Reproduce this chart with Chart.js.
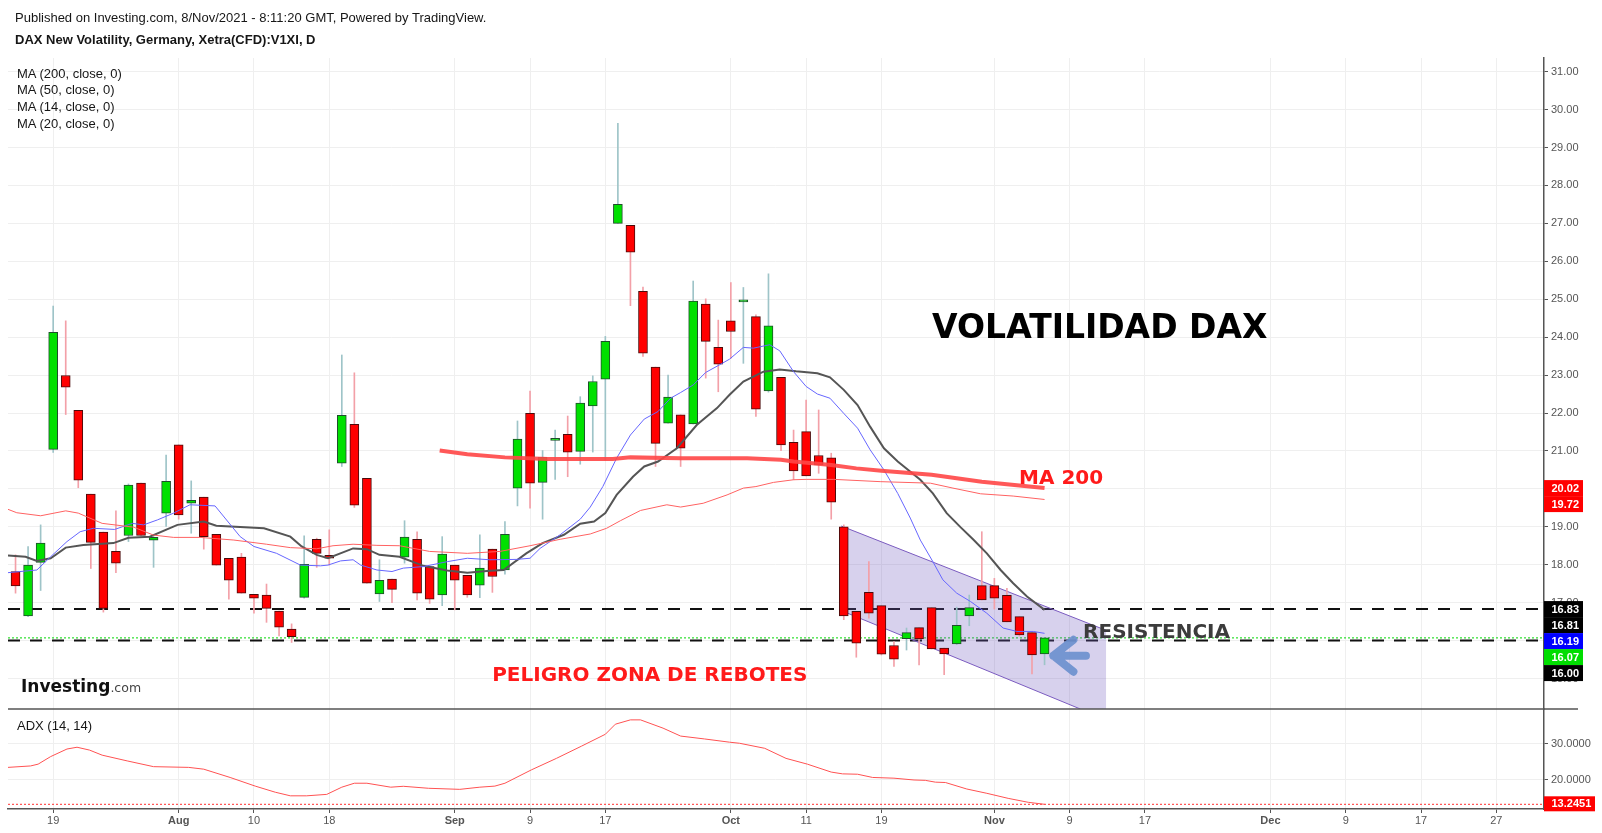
<!DOCTYPE html>
<html>
<head>
<meta charset="utf-8">
<title>DAX New Volatility</title>
<script src="https://cdn.jsdelivr.net/npm/chart.js@4.4.0/dist/chart.umd.min.js"></script>
<style>
body { margin: 0; background: #fff; }
#wrap { position: relative; width: 1602px; height: 833px; font-family: "Liberation Sans", Arial, sans-serif; color: #161616; }
#chart { position: absolute; left: 0; top: 0; }
.txt { position: absolute; font-size: 13px; line-height: 15px; white-space: nowrap; }
#logo { font-family: "DejaVu Sans", Verdana, sans-serif; }
#logo b { font-size: 17px; color: #111; }
#logo span { font-size: 12.5px; color: #444; }
</style>
</head>
<body>
<div id="wrap">
<canvas id="chart" width="1602" height="833"></canvas>
<div class="txt" style="left:15px;top:10px">Published on Investing.com, 8/Nov/2021 - 8:11:20 GMT, Powered by TradingView.</div>
<div class="txt" style="left:15px;top:32px;font-weight:bold">DAX New Volatility, Germany, Xetra(CFD):V1XI, D</div>
<div class="txt" style="left:17px;top:66px">MA (200, close, 0)</div>
<div class="txt" style="left:17px;top:82px">MA (50, close, 0)</div>
<div class="txt" style="left:17px;top:99px">MA (14, close, 0)</div>
<div class="txt" style="left:17px;top:116px">MA (20, close, 0)</div>
<div class="txt" id="logo" style="left:21px;top:676px;line-height:20px"><b>Investing</b><span>.com</span></div>
<div class="txt" style="left:17px;top:718px">ADX (14, 14)</div>
</div>
<script>
// daily bars, x = trading day counted from 19 Jul 2021 (first bar is 14 Jul = -3)
const firstDay = -3;

const open = [
	17.82, 16.65, 18.06, 21.04, 22.99, 22.07, 19.86, 18.86, 18.35, 18.77,
	20.15, 18.65, 19.36, 21.16, 19.62, 19.78, 18.80, 18.17, 18.20, 17.22,
	17.20, 16.78, 16.30, 17.14, 18.67, 18.25, 20.68, 21.70, 20.28, 17.23,
	17.62, 18.20, 18.67, 17.95, 17.20, 17.99, 17.72, 17.46, 18.41, 17.86,
	20.02, 21.99, 20.17, 21.28, 21.44, 20.99, 22.19, 22.89, 27.00, 26.95,
	25.21, 23.21, 21.73, 21.95, 21.71, 24.87, 23.73, 24.43, 24.93, 24.54,
	22.58, 22.94, 21.23, 21.51, 20.88, 20.82, 19.00, 16.77, 17.27, 16.92,
	15.87, 16.05, 16.34, 16.87, 15.80, 15.91, 16.65, 17.45, 17.45, 17.19,
	16.63, 16.21, 15.65
];
const high = [
	18.26, 18.48, 19.05, 24.82, 24.43, 22.07, 19.86, 18.86, 19.42, 20.13,
	20.15, 18.74, 20.89, 21.16, 20.21, 19.78, 18.80, 18.17, 18.30, 17.22,
	17.49, 16.78, 16.44, 18.76, 18.70, 18.92, 23.53, 23.06, 20.28, 18.13,
	17.62, 19.16, 18.87, 17.95, 18.74, 17.99, 17.72, 18.79, 18.41, 19.14,
	21.79, 22.58, 21.01, 21.55, 21.92, 22.43, 22.98, 24.02, 29.64, 26.95,
	25.32, 23.21, 23.00, 21.95, 25.48, 25.01, 24.45, 25.44, 25.31, 24.59,
	25.67, 22.94, 21.55, 22.34, 22.08, 20.94, 19.05, 16.77, 18.08, 16.92,
	15.97, 16.33, 16.34, 16.87, 15.80, 16.88, 17.20, 18.87, 17.64, 17.38,
	16.63, 16.21, 16.07
];
const low = [
	17.25, 16.63, 17.32, 20.96, 21.96, 20.03, 17.90, 16.75, 17.79, 18.61,
	18.77, 17.93, 19.01, 19.20, 18.83, 18.41, 17.99, 17.09, 17.25, 16.72,
	16.48, 16.12, 15.95, 17.12, 17.93, 17.99, 20.59, 19.51, 17.51, 17.03,
	17.00, 18.04, 17.07, 16.98, 16.92, 16.81, 17.14, 17.13, 17.27, 17.75,
	19.55, 19.49, 19.20, 20.25, 20.32, 20.65, 20.97, 20.76, 27.00, 24.83,
	23.49, 20.59, 21.73, 20.59, 21.71, 22.92, 22.56, 23.44, 23.31, 21.91,
	22.55, 21.01, 20.24, 20.34, 20.41, 19.20, 16.55, 15.56, 16.59, 15.62,
	15.32, 15.75, 15.36, 15.78, 15.10, 15.89, 16.39, 17.07, 16.83, 16.49,
	16.12, 15.12, 15.36
];
const close = [
	17.44, 17.99, 18.57, 24.13, 22.68, 20.23, 18.59, 16.85, 18.04, 20.10,
	18.77, 18.72, 20.20, 19.31, 19.70, 18.74, 17.99, 17.59, 17.25, 17.12,
	16.85, 16.35, 16.10, 18.01, 18.30, 18.17, 21.94, 19.57, 17.51, 17.59,
	17.35, 18.73, 17.25, 17.09, 18.28, 17.59, 17.20, 17.91, 17.69, 18.80,
	21.31, 20.15, 20.83, 21.30, 20.97, 22.26, 22.83, 23.89, 27.50, 26.24,
	23.58, 21.20, 22.42, 21.07, 24.95, 23.89, 23.29, 24.15, 24.97, 22.10,
	24.30, 21.16, 20.47, 20.34, 20.63, 19.65, 16.65, 15.93, 16.72, 15.64,
	15.51, 16.21, 16.04, 15.78, 15.65, 16.40, 16.87, 17.07, 17.12, 16.49,
	16.15, 15.62, 16.07
];

// moving averages: [day, value]
const ma200 = [[30.8,21.01],[33,20.91],[36,20.83],[39.4,20.79],[44.6,20.79],[46,20.83],[50,20.81],[55.3,20.81],
	[58,20.77],[59,20.72],[62,20.63],[64,20.54],[66,20.48],[70,20.37],[74,20.19],[79,20.02]];
const ma50 = [[-3.6,19.46],[-2.9,19.37],[-1,19.29],[1,19.42],[2,19.36],[3.9,19.09],[6.4,18.99],[8,18.78],[9.6,18.72],
	[11.7,18.72],[14.4,18.65],[17,18.54],[18.9,18.45],[21,18.42],[22.3,18.50],[23.9,18.54],[25.8,18.51],[27.6,18.50],
	[30,18.35],[33,18.30],[35.6,18.35],[38,18.50],[40.4,18.67],[42.8,18.81],[44.1,18.96],[45.2,19.16],[46.8,19.43],
	[48.9,19.58],[50,19.52],[51.8,19.62],[53.7,19.84],[55,20.02],[56,20.06],[57.4,20.17],[59,20.24],[60,20.25],
	[62.2,20.25],[65.9,20.19],[69.9,20.15],[71.7,20.02],[73.9,19.87],[76.5,19.81],[79,19.72]];
const ma14 = [[-3.6,17.79],[-1.3,17.86],[-0.2,18.21],[1.1,18.61],[2.15,18.87],[3.2,18.96],[4.9,18.93],[6.3,19.09],
	[7.2,19.05],[8.3,19.18],[9.6,19.36],[10.9,19.58],[12.9,19.55],[14.9,18.74],[16,18.48],[17.8,18.30],[19.7,17.99],
	[21.3,17.97],[21.9,17.99],[22.9,18.10],[23.9,18.13],[24.5,17.99],[25.8,17.86],[27,17.82],[27.9,17.91],[29.5,17.95],
	[31.4,18.08],[33,18.17],[34.8,18.13],[36.9,18.14],[38,18.17],[38.8,18.43],[40.4,18.79],[42,19.20],[42.8,19.52],
	[43.8,20.06],[44.9,20.81],[46,21.42],[47.1,21.84],[48.2,22.04],[49.2,22.39],[50,22.54],[51,22.74],[52,23.07],
	[53.1,23.27],[53.9,23.42],[55,23.73],[55.8,23.71],[57.1,23.80],[57.9,23.64],[59,23.09],[60,22.70],[60.9,22.50],
	[61.9,22.39],[63,21.99],[64.1,21.60],[65.1,21.03],[66.2,20.50],[67.3,19.88],[68.3,19.23],[69.1,18.65],[70.1,18.08],
	[70.9,17.60],[72,17.25],[73.1,17.03],[74.4,16.72],[75.7,16.33],[76.8,16.24],[78.1,16.24],[79,16.19]];
const ma20 = [[-3.6,18.24],[-2.2,18.21],[-1.3,18.10],[-0.2,18.17],[1,18.45],[2.4,18.52],[4.8,18.57],[6,18.71],
	[7.7,18.74],[9.9,19.05],[12,19.14],[13,19.03],[16.8,18.96],[18.9,18.74],[19.8,18.48],[21,18.26],[21.9,18.17],
	[23.9,18.43],[25,18.41],[26,18.26],[27.6,18.21],[29.5,17.97],[31.4,17.85],[33,17.79],[34.8,17.84],[35.9,17.86],
	[37.7,18.30],[39,18.57],[40.7,18.79],[42,19.08],[43.1,19.14],[44,19.36],[44.9,19.84],[46.2,20.32],[47.1,20.59],
	[48.2,20.72],[49.7,21.07],[51.3,21.69],[52.9,22.13],[53.9,22.48],[55,22.83],[56.6,23.09],[57.9,23.15],[59.2,23.10],
	[60.9,23.05],[61.9,22.94],[63,22.61],[64.1,22.21],[65.1,21.64],[66.2,21.07],[67.3,20.72],[69.1,20.24],[70.1,19.88],
	[71.2,19.36],[72.3,18.99],[73.3,18.67],[74.4,18.30],[75.5,17.86],[76.5,17.51],[77.6,17.16],[79,16.81]];

// ADX (14, 14)
const adx = [[-3.6,23.5],[-1.8,23.9],[-1.2,24.4],[-0.2,26.5],[1.1,28.6],[1.9,29.1],[2.9,28.3],[3.9,26.9],[5.9,25.3],
	[8,23.7],[10.8,23.5],[12,23.0],[14.1,20.7],[16.1,18.3],[17.7,16.6],[18.9,15.6],[20.2,15.6],[21.8,16.0],[23,18.0],
	[24,19.1],[25,19.1],[26.9,18.0],[27.9,18.25],[29.9,17.7],[32.4,17.4],[34,18.0],[35.2,18.3],[36,19.1],[38.1,22.8],
	[40.1,26.0],[42.1,29.4],[44,32.7],[44.8,35.5],[46,36.7],[46.8,36.7],[48.6,34.4],[50,32.2],[51.9,31.4],[53.9,30.5],
	[54.7,30.2],[56.7,28.8],[58.4,26.0],[60.1,24.4],[62,22.2],[62.9,21.7],[64.1,21.6],[65.3,20.7],[67,20.5],[68.6,20.0],
	[69.5,19.9],[70.3,19.4],[71.1,19.3],[72.8,17.5],[74.4,16.3],[76.1,14.9],[77.7,13.8],[79,13.2451]];

const xTickDays = [0, 10, 16, 22, 32, 38, 44, 54, 60, 66, 75, 81, 87, 97, 103, 109, 115];
const xTickLabels = ['19', 'Aug', '10', '18', 'Sep', '9', '17', 'Oct', '11', '19', 'Nov', '9', '17', 'Dec', '9', '17', '27'];
const monthLabels = ['Aug', 'Sep', 'Oct', 'Nov', 'Dec'];
const priceTicks = [15, 16, 17, 18, 19, 20, 21, 22, 23, 24, 25, 26, 27, 28, 29, 30, 31];
const adxTicks = [20, 30];

const levels = [16.83, 16.00];      // resistencia / soporte
const adxLevel = 13.2451;

const xMin = -3.6, xMax = 118.8;
const priceMin = 14.195, priceMax = 31.361;
const adxMin = 11.94, adxMax = 39.72;

// descending channel drawn on the chart
const channelTop = [[62.8, 19.02], [83.9, 16.27]];
const channelBottom = [[62.8, 16.79], [81.85, priceMin]];
const channel = [channelTop[0], channelTop[1], [83.9, priceMin], channelBottom[1], channelBottom[0]];

const notes = [
	{text: 'VOLATILIDAD DAX', x: 70.04, y: 24.30, size: 33, color: '#000000'},
	{text: 'MA 200', x: 76.97, y: 20.31, size: 20, color: '#ff1a1a'},
	{text: 'RESISTENCIA', x: 82.07, y: 16.25, size: 20, color: '#3c3c3c'},
	{text: 'PELIGRO ZONA DE REBOTES', x: 34.98, y: 15.12, size: 20, color: '#ff1a1a'}
];

function pts(arr) {
	return arr.map(function(p) { return {x: p[0], y: p[1]}; });
}
function flat(v) {
	return [{x: xMin, y: v}, {x: xMax, y: v}];
}
function last(arr) {
	return arr[arr.length - 1][1];
}

var bodies = [], wicks = [], bodyColor = [], bodyBorder = [], wickColor = [];
close.forEach(function(c, k) {
	var day = firstDay + k;
	var up = c >= open[k];
	bodies.push({x: day, y: [open[k], c]});
	wicks.push({x: day, y: [low[k], high[k]]});
	bodyColor.push(up ? '#00e000' : '#ff0000');
	bodyBorder.push(up ? '#1f4d2c' : '#4a0b0b');
	wickColor.push(up ? '#9ec4c8' : '#f3a0a8');
});

var fontFamily = '"Liberation Sans", Arial, sans-serif';
Chart.defaults.font.family = fontFamily;
Chart.defaults.font.size = 11;
Chart.defaults.color = '#555';

var overlay = {
	id: 'overlay',
	afterDatasetsDraw: function(chart) {
		var ctx = chart.ctx, x = chart.scales.x, y = chart.scales.y;
		ctx.save();
		ctx.beginPath();
		ctx.rect(chart.chartArea.left, y.top, chart.chartArea.width, y.height);
		ctx.clip();
		notes.forEach(function(n) {
			ctx.font = 'bold ' + n.size + 'px "DejaVu Sans", Verdana, sans-serif';
			ctx.fillStyle = n.color;
			ctx.textAlign = 'left';
			ctx.textBaseline = 'alphabetic';
			ctx.fillText(n.text, x.getPixelForValue(n.x), y.getPixelForValue(n.y) + n.size * 0.36);
		});
		// blue arrow pointing at last candle
		ctx.strokeStyle = 'rgba(108,144,206,0.92)';
		ctx.lineWidth = 8;
		ctx.lineCap = 'round';
		ctx.lineJoin = 'round';
		ctx.beginPath();
		ctx.moveTo(x.getPixelForValue(81.3), y.getPixelForValue(16.02));
		ctx.lineTo(x.getPixelForValue(79.7), y.getPixelForValue(15.6));
		ctx.lineTo(x.getPixelForValue(81.3), y.getPixelForValue(15.18));
		ctx.moveTo(x.getPixelForValue(79.7), y.getPixelForValue(15.6));
		ctx.lineTo(x.getPixelForValue(82.3), y.getPixelForValue(15.6));
		ctx.stroke();
		ctx.restore();
	},
	afterDraw: function(chart) {
		var ctx = chart.ctx, y = chart.scales.y, y2 = chart.scales.y2;
		ctx.save();
		// pane separator
		ctx.strokeStyle = '#555';
		ctx.lineWidth = 1.5;
		ctx.beginPath();
		ctx.moveTo(chart.chartArea.left, y2.top);
		ctx.lineTo(1578, y2.top);
		ctx.stroke();

		var tags = [
			{v: last(ma200), bg: '#ff0000'},
			{v: last(ma50), bg: '#ff0000'},
			{v: levels[0], bg: '#000000'},
			{v: last(ma20), bg: '#000000'},
			{v: last(ma14), bg: '#0000ff'},
			{v: close[close.length - 1], bg: '#00dd00'},
			{v: levels[1], bg: '#000000'}
		].sort(function(a, b) { return b.v - a.v; });
		ctx.font = 'bold 11px ' + fontFamily;
		ctx.textAlign = 'left';
		ctx.textBaseline = 'middle';
		var prev = -1e9;
		tags.forEach(function(t) {
			var top = Math.max(y.getPixelForValue(t.v) - 8, prev);
			ctx.fillStyle = t.bg;
			ctx.fillRect(y.left, top, 39, 16);
			ctx.fillStyle = '#fff';
			ctx.fillText(t.v.toFixed(2), y.left + 7.5, top + 8.5);
			prev = top + 16;
		});
		var ay = y2.getPixelForValue(adxLevel);
		ctx.fillStyle = '#ff0000';
		ctx.fillRect(y2.left, ay - 8, 51, 15);
		ctx.fillStyle = '#fff';
		ctx.fillText(adxLevel.toFixed(4), y2.left + 7.5, ay);
		ctx.restore();
	}
};

var ctx = document.getElementById('chart');

new Chart(ctx, {
	type: 'line',
	data: {
		datasets: [
			{
				type: 'line', data: flat(levels[0]), yAxisID: 'y', order: 10,
				borderColor: '#111', borderWidth: 2, borderDash: [12, 10], pointRadius: 0
			},
			{
				type: 'line', data: flat(levels[1]), yAxisID: 'y', order: 10,
				borderColor: '#111', borderWidth: 2, borderDash: [12, 10], pointRadius: 0
			},
			{
				type: 'line', data: flat(close[close.length - 1]), yAxisID: 'y', order: 10,
				borderColor: '#00d800', borderWidth: 1, borderDash: [2, 2], pointRadius: 0
			},
			{
				type: 'line', data: flat(adxLevel), yAxisID: 'y2', order: 10,
				borderColor: '#ff3030', borderWidth: 1, borderDash: [2, 2], pointRadius: 0
			},
			{
				type: 'line', data: pts(channel), yAxisID: 'y', order: 8,
				backgroundColor: 'rgba(110,90,190,0.28)', fill: 'shape', borderWidth: 0, pointRadius: 0
			},
			{
				type: 'line', data: pts(channelTop), yAxisID: 'y', order: 8,
				borderColor: '#7d5cc0', borderWidth: 1, pointRadius: 0
			},
			{
				type: 'line', data: pts(channelBottom), yAxisID: 'y', order: 8,
				borderColor: '#7d5cc0', borderWidth: 1, pointRadius: 0
			},
			{
				type: 'bar', data: wicks, yAxisID: 'y', order: 6, grouped: false,
				barThickness: 1, backgroundColor: wickColor, borderWidth: 0
			},
			{
				type: 'bar', data: bodies, yAxisID: 'y', order: 5, grouped: false,
				barThickness: 9, backgroundColor: bodyColor, borderColor: bodyBorder,
				borderWidth: 1, borderSkipped: false, minBarLength: 2
			},
			{
				type: 'line', data: pts(ma200), yAxisID: 'y', order: 1,
				borderColor: 'rgba(255,70,70,0.9)', borderWidth: 4, pointRadius: 0
			},
			{
				type: 'line', data: pts(ma50), yAxisID: 'y', order: 1,
				borderColor: '#ff6262', borderWidth: 1, pointRadius: 0
			},
			{
				type: 'line', data: pts(ma14), yAxisID: 'y', order: 1,
				borderColor: '#6666ff', borderWidth: 1, pointRadius: 0
			},
			{
				type: 'line', data: pts(ma20), yAxisID: 'y', order: 1,
				borderColor: '#555555', borderWidth: 2, pointRadius: 0
			},
			{
				type: 'line', data: pts(adx), yAxisID: 'y2', order: 1,
				borderColor: '#ff5252', borderWidth: 1, pointRadius: 0
			}
		]
	},
	options: {
		responsive: false,
		animation: false,
		events: [],
		layout: { padding: { left: 8, top: 58, right: 0, bottom: 0 } },
		plugins: {
			legend: { display: false },
			tooltip: { enabled: false }
		},
		scales: {
			x: {
				type: 'linear',
				min: xMin,
				max: xMax,
				offset: false,
				afterFit: function(s) { s.height = 24; },
				afterBuildTicks: function(s) {
					s.ticks = xTickDays.map(function(v) { return {value: v}; });
				},
				grid: { offset: false, color: '#efefef', tickColor: '#555', tickLength: 4 },
				border: { color: '#555', width: 1.5 },
				ticks: {
					autoSkip: false,
					maxRotation: 0,
					padding: 1,
					color: '#555',
					font: function(c) {
						var lab = xTickLabels[c.index];
						return { size: 11, weight: monthLabels.indexOf(lab) >= 0 ? 'bold' : 'normal' };
					},
					callback: function(value, index) { return xTickLabels[index]; }
				}
			},
			y: {
				type: 'linear',
				position: 'right',
				stack: 'panes',
				stackWeight: 651,
				min: priceMin,
				max: priceMax,
				beginAtZero: false,
				afterFit: function(s) { s.width = 58; },
				afterBuildTicks: function(s) {
					s.ticks = priceTicks.map(function(v) { return {value: v}; });
				},
				grid: { color: '#efefef', tickColor: '#555', tickLength: 4 },
				border: { color: '#555', width: 1.5 },
				ticks: {
					padding: 3,
					color: '#555',
					callback: function(v) { return v.toFixed(2); }
				}
			},
			y2: {
				type: 'linear',
				position: 'right',
				stack: 'panes',
				stackWeight: 100,
				min: adxMin,
				max: adxMax,
				afterFit: function(s) { s.width = 58; },
				afterBuildTicks: function(s) {
					s.ticks = adxTicks.map(function(v) { return {value: v}; });
				},
				grid: { color: '#efefef', tickColor: '#555', tickLength: 4 },
				border: { color: '#555', width: 1.5 },
				ticks: {
					padding: 3,
					color: '#555',
					callback: function(v) { return v.toFixed(4); }
				}
			}
		}
	},
	plugins: [overlay]
});
</script>
</body>
</html>
